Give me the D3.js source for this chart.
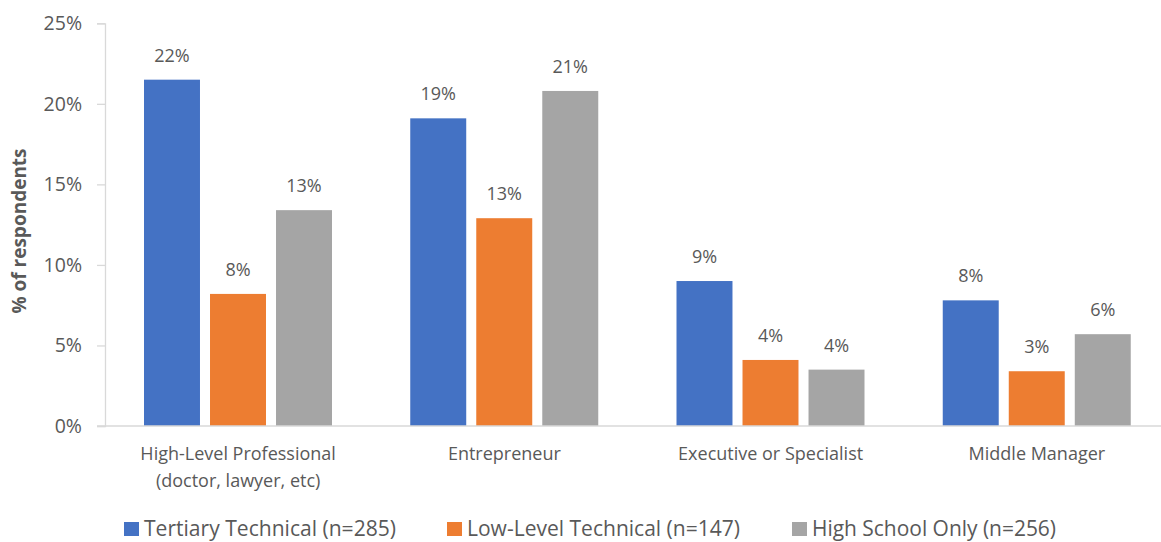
<!DOCTYPE html>
<html>
<head>
<meta charset="utf-8">
<script src="https://cdn.jsdelivr.net/npm/d3@7"></script>
<style>
  html, body { margin: 0; padding: 0; background: #fff; }
  svg { display: block; }
  text { font-family: "Open Sans", "Noto Sans", sans-serif; fill: #595959; }
</style>
</head>
<body>
<svg id="chart" width="1161" height="542"></svg>
<script>
// Occupations and the respondent groups compared for each
const categories = [
  ["High-Level Professional", "(doctor, lawyer, etc)"],
  ["Entrepreneur"],
  ["Executive or Specialist"],
  ["Middle Manager"]
];
const seriesNames = ["Tertiary Technical (n=285)", "Low-Level Technical (n=147)", "High School Only (n=256)"];
const seriesColors = ["#4472C4", "#ED7D31", "#A5A5A5"];

// Share of respondents (%) per occupation, one array per group
const tertiaryTechnical = [21.5, 19.1, 9.0, 7.8];
const lowLevelTechnical = [8.2, 12.9, 4.1, 3.4];
const highSchoolOnly = [13.4, 20.8, 3.5, 5.7];

const yTicks = [0, 5, 10, 15, 20, 25];
const yTitle = "% of respondents";

const seriesValues = [tertiaryTechnical, lowLevelTechnical, highSchoolOnly];
const catKeys = categories.map(c => c.join(" "));

const svg = d3.select("#chart");
const plot = { left: 105, right: 1170, top: 23.3, bottom: 426 };

const x0 = d3.scaleBand().domain(catKeys).range([plot.left, plot.right]).padding(0);
const x1 = d3.scaleBand().domain(d3.range(seriesNames.length)).range([39, 227]).paddingInner(0.152).paddingOuter(0);
const y = d3.scaleLinear().domain([0, 25]).range([plot.bottom, plot.top]);

// Y axis: light line with outward ticks and percent labels
const yAxis = svg.append("g").attr("transform", `translate(${plot.left},0)`)
  .call(d3.axisLeft(y).tickValues(yTicks).tickSize(8).tickPadding(15).tickFormat(d => d + "%"));
yAxis.select(".domain").attr("stroke", "#D9D9D9").attr("stroke-width", 1.3);
yAxis.selectAll(".tick line").attr("stroke", "#D9D9D9").attr("stroke-width", 1.3);
yAxis.selectAll(".tick text").attr("font-size", 19.5).attr("fill", "#595959")
  .style("font-family", '"Open Sans", "Noto Sans", sans-serif');

// Bars
const groups = svg.append("g").selectAll("g")
  .data(catKeys).join("g")
  .attr("transform", d => `translate(${x0(d)},0)`);

groups.selectAll("rect")
  .data((d, i) => seriesValues.map((vals, s) => ({ s, v: vals[i] })))
  .join("rect")
  .attr("x", d => x1(d.s))
  .attr("width", x1.bandwidth())
  .attr("y", d => y(d.v))
  .attr("height", d => y(0) - y(d.v))
  .attr("fill", d => seriesColors[d.s]);

// Value labels above each bar
groups.selectAll("text.val")
  .data((d, i) => seriesValues.map((vals, s) => ({ s, v: vals[i] })))
  .join("text")
  .attr("class", "val")
  .attr("x", d => x1(d.s) + x1.bandwidth() / 2)
  .attr("y", d => y(d.v) - 18)
  .attr("text-anchor", "middle")
  .attr("font-size", 18)
  .text(d => Math.round(d.v) + "%");

// X axis baseline
svg.append("line")
  .attr("x1", plot.left - 8).attr("x2", 1161)
  .attr("y1", y(0)).attr("y2", y(0))
  .attr("stroke", "#D9D9D9").attr("stroke-width", 1.3);

// Category labels (may wrap onto two lines)
const catLabels = svg.append("g").selectAll("text")
  .data(categories).join("text")
  .attr("x", (d, i) => x0(catKeys[i]) + x0.bandwidth() / 2)
  .attr("y", 460)
  .attr("text-anchor", "middle")
  .attr("font-size", 18);
catLabels.selectAll("tspan")
  .data(d => d).join("tspan")
  .attr("x", function () { return this.parentNode.getAttribute("x"); })
  .attr("dy", (d, i) => i === 0 ? 0 : 27)
  .text(d => d);

// Y axis title
svg.append("text")
  .attr("transform", "translate(26,231) rotate(-90)")
  .attr("text-anchor", "middle")
  .attr("font-size", 19)
  .attr("font-weight", "bold")
  .text(yTitle);

// Legend
const legendX = [124, 447, 792];
const legendW = [252, 273, 244];
const legend = svg.append("g").selectAll("g")
  .data(seriesNames).join("g")
  .attr("transform", (d, i) => `translate(${legendX[i]},0)`);
legend.append("rect")
  .attr("x", 0).attr("y", 522).attr("width", 15).attr("height", 14)
  .attr("fill", (d, i) => seriesColors[i]);
legend.append("text")
  .attr("x", 20).attr("y", 536)
  .attr("font-size", 21)
  .attr("textLength", (d, i) => legendW[i])
  .attr("lengthAdjust", "spacingAndGlyphs")
  .text(d => d);
</script>
</body>
</html>
